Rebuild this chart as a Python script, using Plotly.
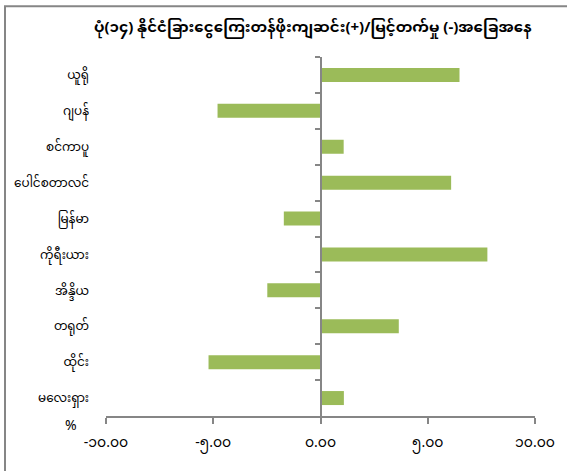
import plotly.graph_objects as go

categories = ["ယူရို", "ဂျပန်", "စင်ကာပူ", "ပေါင်စတာလင်", "မြန်မာ",
              "ကိုရီးယား", "အိန္ဒိယ", "တရုတ်", "ထိုင်း", "မလေးရှား"]
values = [6.48, -4.80, 1.08, 6.09, -1.71, 7.78, -2.48, 3.65, -5.22, 1.09]
x_tickvals = [-10, -5, 0, 5, 10]
x_ticktext = ["-၁၀.၀၀", "-၅.၀၀", "၀.၀၀", "၅.၀၀", "၁၀.၀၀"]
title_text = "ပုံ(၁၄) နိုင်ငံခြားငွေကြေးတန်ဖိုးကျဆင်း(+)/မြင့်တက်မှု (-)အခြေအနေ"

FONT = "Noto Sans Myanmar, Padauk, Myanmar Text, Noto Sans, sans-serif"
AXIS = "#868686"
W, H = 567, 471
L, R, T, B = 106, 32, 57, 53
pw, ph = W - L - R, H - T - B

def px(x):
    return (x - L) / pw

def py(y):
    return (H - B - y) / ph

n = len(categories)
ypos = list(range(n))

fig = go.Figure()
fig.add_trace(go.Bar(
    x=values, y=ypos, orientation="h",
    marker=dict(color="#9BBB59", line=dict(width=0)),
    width=0.39, showlegend=False, hoverinfo="x+y",
))
# invisible trace to anchor the zero-line axis
fig.add_trace(go.Scatter(x=[0], y=[0], yaxis="y2", mode="markers",
                         marker=dict(opacity=0), showlegend=False, hoverinfo="skip"))

fig.update_layout(
    width=W, height=H,
    margin=dict(l=L, r=R, t=T, b=B),
    paper_bgcolor="white", plot_bgcolor="white",
    font=dict(family=FONT, color="#000000", size=12),
    xaxis=dict(
        range=[-10, 10], tickvals=x_tickvals, ticktext=x_ticktext,
        ticks="outside", ticklen=6, tickwidth=2, tickcolor=AXIS,
        showline=True, linecolor=AXIS, linewidth=2,
        showgrid=False, zeroline=False,
        ticklabelstandoff=6,
        tickfont=dict(size=14, family=FONT, color="#000000"),
        fixedrange=True,
    ),
    yaxis=dict(
        range=[n - 0.5, -0.5], tickvals=ypos, ticktext=categories,
        showline=False, showgrid=False, zeroline=False, ticks="",
        ticklabelstandoff=16,
        tickfont=dict(size=12, family=FONT, color="#000000"),
        fixedrange=True,
    ),
    yaxis2=dict(
        overlaying="y", anchor="free", position=0.5, side="left",
        range=[n - 0.5, -0.5], tickvals=[i - 0.5 for i in range(n)],
        showticklabels=False, ticks="outside", ticklen=5, tickwidth=2,
        tickcolor=AXIS, showline=True, linecolor=AXIS, linewidth=2,
        showgrid=False, zeroline=False, fixedrange=True,
    ),
    shapes=[dict(type="rect", xref="paper", yref="paper",
                 x0=px(5), y0=py(480), x1=px(575), y1=py(6),
                 line=dict(color=AXIS, width=2), layer="below")],
    annotations=[
        dict(text="<b>" + title_text + "</b>", xref="paper", yref="paper",
             x=px(313), y=py(28), showarrow=False,
             font=dict(size=15, family=FONT, color="#000000"),
             xanchor="center", yanchor="middle"),
        dict(text="%", xref="paper", yref="paper",
             x=px(71), y=py(429), showarrow=False,
             font=dict(size=14, family=FONT, color="#000000"),
             xanchor="center", yanchor="middle"),
    ],
)

fig.write_html("out.html", config={"displayModeBar": False},
               post_script="document.body.style.margin='0';document.body.style.overflow='hidden';")
